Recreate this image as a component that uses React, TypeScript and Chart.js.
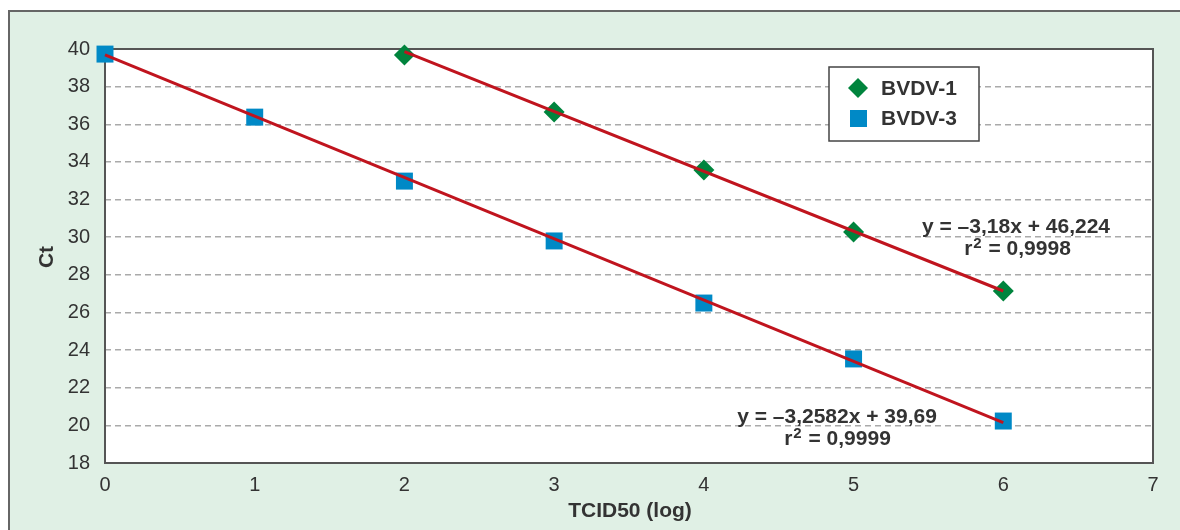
import React, { useEffect, useRef } from "react";
import { Chart, registerables } from "chart.js";

Chart.register(...registerables);

const bvdv1X = [2, 3, 4, 5, 6];
const bvdv1Ct = [39.68, 36.65, 33.57, 30.27, 27.14];
const bvdv3X = [0, 1, 2, 3, 4, 5, 6];
const bvdv3Ct = [39.73, 36.38, 32.98, 29.8, 26.5, 23.53, 20.23];
const trend1X = [2, 6];
const trend1Y = [39.86, 27.14];
const trend3X = [0, 6];
const trend3Y = [39.69, 20.14];
const seriesNames = ["BVDV-1", "BVDV-3"];
const eq1 = ["y = –3,18x + 46,224", "0,9998"];
const eq3 = ["y = –3,2582x + 39,69", "0,9999"];
const xTitle = "TCID50 (log)";
const yTitle = "Ct";

const GREEN = "#00843d";
const BLUE = "#0089c6";
const RED = "#c0141e";
const TEXT = "#333333";
const FONT = "'Liberation Sans', Arial, sans-serif";

const pts = (xs: number[], ys: number[]) => xs.map((x, i) => ({ x, y: ys[i] }));

function drawR2(ctx: CanvasRenderingContext2D, value: string, cx: number, cy: number) {
  const big = `bold 21px ${FONT}`;
  const small = `bold 15px ${FONT}`;
  const rest = " = " + value;
  ctx.font = big;
  const wr = ctx.measureText("r").width;
  const wrest = ctx.measureText(rest).width;
  ctx.font = small;
  const w2 = ctx.measureText("2").width + 1;
  const total = wr + w2 + wrest;
  let x = cx - total / 2;
  ctx.textAlign = "left";
  ctx.font = big;
  ctx.fillText("r", x, cy);
  x += wr + 1;
  ctx.font = small;
  ctx.fillText("2", x, cy - 5);
  x += w2;
  ctx.font = big;
  ctx.fillText(rest, x, cy);
}

const decor = {
  id: "decor",
  beforeDraw(chart: any) {
    const { ctx, chartArea: a } = chart;
    ctx.save();
    ctx.fillStyle = "#ffffff";
    ctx.fillRect(0, 0, chart.width, chart.height);
    ctx.fillStyle = "#e0f0e5";
    ctx.fillRect(9, 11, chart.width + 20, chart.height + 20);
    ctx.strokeStyle = "#666666";
    ctx.lineWidth = 2;
    ctx.strokeRect(9, 11, chart.width + 20, chart.height + 20);
    ctx.fillStyle = "#ffffff";
    ctx.fillRect(a.left, a.top, a.right - a.left, a.bottom - a.top);
    ctx.restore();
  },
  beforeDatasetsDraw(chart: any) {
    const { ctx, chartArea: a } = chart;
    ctx.save();
    ctx.strokeStyle = "#555555";
    ctx.lineWidth = 2;
    ctx.strokeRect(a.left, a.top, a.right - a.left, a.bottom - a.top);
    ctx.restore();
  },
  afterDatasetsDraw(chart: any) {
    const { ctx } = chart;
    ctx.save();
    // axis titles
    ctx.fillStyle = TEXT;
    ctx.font = `bold 21px ${FONT}`;
    ctx.textAlign = "center";
    ctx.textBaseline = "middle";
    ctx.fillText(xTitle, 630, 511);
    ctx.save();
    ctx.translate(47, 257);
    ctx.rotate(-Math.PI / 2);
    ctx.fillText(yTitle, 0, 0);
    ctx.restore();

    // legend
    ctx.fillStyle = "#ffffff";
    ctx.fillRect(829, 67, 150, 74);
    ctx.strokeStyle = "#444444";
    ctx.lineWidth = 1.5;
    ctx.strokeRect(829, 67, 150, 74);
    ctx.fillStyle = GREEN;
    ctx.beginPath();
    ctx.moveTo(858, 78);
    ctx.lineTo(868, 88);
    ctx.lineTo(858, 98);
    ctx.lineTo(848, 88);
    ctx.closePath();
    ctx.fill();
    ctx.fillStyle = BLUE;
    ctx.fillRect(850, 110, 17, 17);
    ctx.fillStyle = TEXT;
    ctx.font = `bold 21px ${FONT}`;
    ctx.textAlign = "left";
    ctx.fillText(seriesNames[0], 881, 89);
    ctx.fillText(seriesNames[1], 881, 119);

    // equations
    ctx.textAlign = "center";
    ctx.font = `bold 21px ${FONT}`;
    ctx.fillText(eq1[0], 1016, 227);
    drawR2(ctx, eq1[1], 1017, 249);
    ctx.textAlign = "center";
    ctx.font = `bold 21px ${FONT}`;
    ctx.fillText(eq3[0], 837, 417);
    drawR2(ctx, eq3[1], 837, 439);
    ctx.restore();
  },
};

export default function App() {
  const ref = useRef<HTMLCanvasElement | null>(null);
  useEffect(() => {
    document.body.style.margin = "0";
    const chart = new Chart(ref.current as HTMLCanvasElement, {
      type: "scatter",
      data: {
        datasets: [
          {
            label: "trend1",
            data: pts(trend1X, trend1Y),
            showLine: true,
            borderColor: RED,
            borderWidth: 3,
            pointRadius: 0,
            clip: false,
            order: 0,
          },
          {
            label: "trend3",
            data: pts(trend3X, trend3Y),
            showLine: true,
            borderColor: RED,
            borderWidth: 3,
            pointRadius: 0,
            clip: false,
            order: 0,
          },
          {
            label: seriesNames[0],
            data: pts(bvdv1X, bvdv1Ct),
            pointStyle: "rectRot",
            pointRadius: 10.5,
            backgroundColor: GREEN,
            borderColor: GREEN,
            borderWidth: 0,
            clip: false,
            order: 1,
          },
          {
            label: seriesNames[1],
            data: pts(bvdv3X, bvdv3Ct),
            pointStyle: "rect",
            pointRadius: 12,
            backgroundColor: BLUE,
            borderColor: BLUE,
            borderWidth: 0,
            clip: false,
            order: 1,
          },
        ],
      },
      options: {
        animation: false,
        responsive: false,
        layout: { padding: { left: 0, top: 49, right: 27, bottom: 0 } },
        plugins: { legend: { display: false }, tooltip: { enabled: false } },
        scales: {
          x: {
            type: "linear",
            min: 0,
            max: 7,
            ticks: { stepSize: 1, color: TEXT, font: { family: FONT, size: 20 }, padding: 10 },
            grid: { display: false, drawTicks: false },
            border: { display: false },
            afterFit: (s: any) => {
              s.height = 67;
            },
          },
          y: {
            min: 18,
            max: 40,
            ticks: { stepSize: 2, color: TEXT, font: { family: FONT, size: 20 }, padding: 15 },
            grid: { color: "#aaaaaa", lineWidth: 1.5, drawTicks: false },
            border: { display: false, dash: [6, 4] },
            afterFit: (s: any) => {
              s.width = 105;
            },
          },
        },
      } as any,
      plugins: [decor],
    });
    return () => chart.destroy();
  }, []);
  return <canvas ref={ref} width={1180} height={530} style={{ display: "block" }} />;
}
